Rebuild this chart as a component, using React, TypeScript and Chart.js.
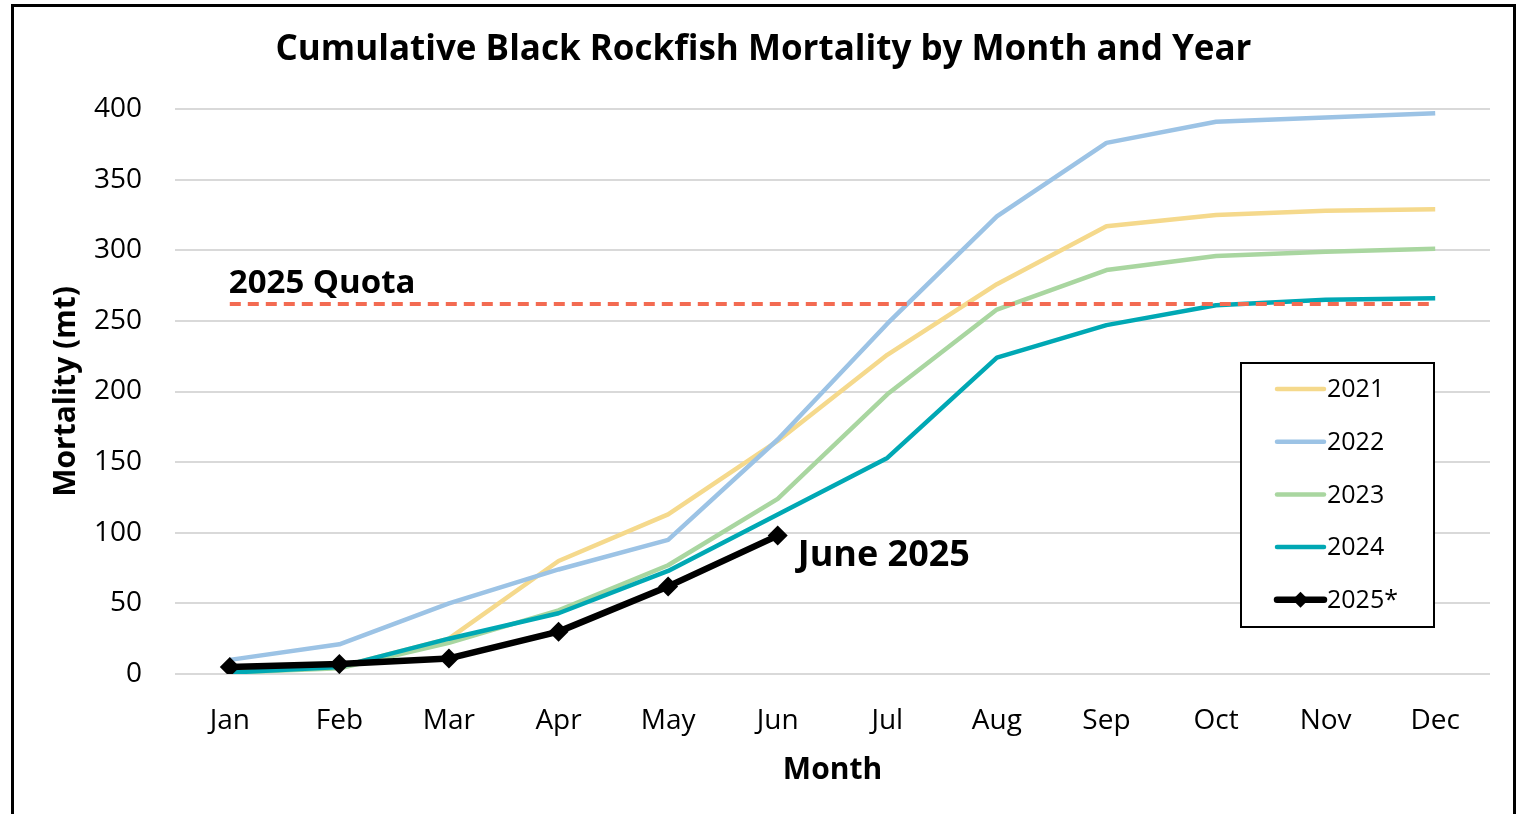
import React, { useEffect, useRef } from "react";
import { Chart, registerables } from "chart.js";

Chart.register(...registerables);

const FONT = "'Open Sans', 'Noto Sans', sans-serif";

const titleText = "Cumulative Black Rockfish Mortality by Month and Year";
const months = ["Jan", "Feb", "Mar", "Apr", "May", "Jun", "Jul", "Aug", "Sep", "Oct", "Nov", "Dec"];
const yTicks = [0, 50, 100, 150, 200, 250, 300, 350, 400];

const series2021 = [2, 5, 25, 80, 113, 165, 226, 276, 317, 325, 328, 329];
const series2022 = [10, 21, 50, 74, 95, 166, 248, 324, 376, 391, 394, 397];
const series2023 = [1, 4, 22, 45, 77, 124, 198, 258, 286, 296, 299, 301];
const series2024 = [1, 5, 25, 43, 73, 113, 153, 224, 247, 261, 265, 266];
const series2025 = [5, 7, 11, 30, 62, 98];
const quotaValue = 262;
const quotaSeries = months.map(() => quotaValue);

const quotaLabel = "2025 Quota";
const currentLabel = "June 2025";

const legendPlugin = {
  id: "customLegend",
  afterDraw(chart: any) {
    const ctx = chart.ctx as CanvasRenderingContext2D;
    const ca = chart.chartArea;
    const x0 = ca.right - 249;
    const y0 = ca.top + 254;
    const w = 193;
    const h = 264;
    ctx.save();
    ctx.fillStyle = "#ffffff";
    ctx.fillRect(x0, y0, w, h);
    ctx.strokeStyle = "#000000";
    ctx.lineWidth = 2;
    ctx.strokeRect(x0, y0, w, h);
    const items = chart.data.datasets.filter((d: any) => d.inLegend);
    items.forEach((d: any, i: number) => {
      const cy = y0 + 26 + i * 52.7;
      const lx1 = x0 + 36;
      const lx2 = x0 + 83;
      ctx.strokeStyle = d.borderColor;
      ctx.lineWidth = d.borderWidth;
      ctx.lineCap = "round";
      ctx.beginPath();
      ctx.moveTo(lx1, cy);
      ctx.lineTo(lx2, cy);
      ctx.stroke();
      if (d.pointRadius > 0) {
        const cx = (lx1 + lx2) / 2;
        const r = 8;
        ctx.fillStyle = d.pointBackgroundColor;
        ctx.beginPath();
        ctx.moveTo(cx, cy - r);
        ctx.lineTo(cx + r, cy);
        ctx.lineTo(cx, cy + r);
        ctx.lineTo(cx - r, cy);
        ctx.closePath();
        ctx.fill();
      }
      ctx.fillStyle = "#000000";
      ctx.font = `25px ${FONT}`;
      ctx.textAlign = "left";
      ctx.textBaseline = "middle";
      ctx.fillText(d.label, lx2 + 3, cy + 1);
    });
    ctx.restore();
  },
};

const annotationPlugin = {
  id: "annotations",
  afterDatasetsDraw(chart: any) {
    const ctx = chart.ctx as CanvasRenderingContext2D;
    const xs = chart.scales.x;
    const ys = chart.scales.y;
    ctx.save();
    ctx.fillStyle = "#000000";
    ctx.textBaseline = "middle";
    ctx.textAlign = "left";
    ctx.font = `bold 33px ${FONT}`;
    ctx.fillText(quotaLabel, xs.getPixelForValue(0) - 1, ys.getPixelForValue(quotaValue) - 20);
    const lastIdx = series2025.length - 1;
    ctx.font = `bold 36px ${FONT}`;
    ctx.fillText(
      currentLabel,
      xs.getPixelForValue(lastIdx) + 20,
      ys.getPixelForValue(series2025[lastIdx]) + 20
    );
    ctx.restore();
  },
};

export default function App() {
  const ref = useRef<HTMLCanvasElement | null>(null);

  useEffect(() => {
    if (!ref.current) return;
    Chart.defaults.font.family = FONT;
    const line = (label: string, data: number[], color: string, order: number) => ({
      label,
      data,
      borderColor: color,
      backgroundColor: color,
      borderWidth: 4.5,
      pointRadius: 0,
      tension: 0,
      fill: false,
      order,
      inLegend: true,
      borderJoinStyle: "round",
    });
    const chart = new Chart(ref.current, {
      type: "line",
      data: {
        labels: months,
        datasets: [
          line("2021", series2021, "#F5D98C", 6),
          line("2022", series2022, "#9CC3E5", 5),
          line("2023", series2023, "#A9D6A0", 4),
          line("2024", series2024, "#00A8B4", 3),
          {
            label: "Quota",
            data: quotaSeries,
            borderColor: "#F36B52",
            borderWidth: 4,
            borderDash: [11, 7],
            pointRadius: 0,
            fill: false,
            order: 2,
            inLegend: false,
          } as any,
          {
            label: "2025*",
            data: series2025,
            borderColor: "#000000",
            backgroundColor: "#000000",
            borderWidth: 6.5,
            pointStyle: "rectRot",
            pointRadius: 10,
            pointBackgroundColor: "#000000",
            pointBorderColor: "#000000",
            pointBorderWidth: 0,
            fill: false,
            order: 1,
            inLegend: true,
            borderJoinStyle: "round",
          } as any,
        ] as any,
      },
      options: {
        animation: false,
        responsive: false,
        maintainAspectRatio: false,
        layout: { padding: { left: 37, right: 26, top: 0, bottom: 0 } },
        plugins: {
          legend: { display: false },
          tooltip: { enabled: false },
          title: {
            display: true,
            text: titleText,
            color: "#000000",
            font: { size: 35, weight: "bold", family: FONT },
            padding: { top: 29, bottom: 38 },
          },
        },
        scales: {
          x: {
            offset: true,
            grid: { display: false, drawTicks: false },
            border: { display: false },
            ticks: { color: "#000000", font: { size: 28 }, padding: 30 },
            title: {
              display: true,
              text: "Month",
              color: "#000000",
              font: { size: 30, weight: "bold" },
              padding: { top: 0, bottom: 26 },
            },
            afterFit: (s: any) => {
              s.height = 140;
            },
          },
          y: {
            min: 0,
            max: 400,
            afterBuildTicks: (s: any) => {
              s.ticks = yTicks.map((v) => ({ value: v }));
            },
            ticks: { color: "#000000", font: { size: 28 }, padding: 33 },
            grid: { color: "#D9D9D9", lineWidth: 2, drawTicks: false },
            border: { display: false },
            title: {
              display: true,
              text: "Mortality (mt)",
              color: "#000000",
              font: { size: 30, weight: "bold" },
              padding: { top: 11, bottom: 0 },
            },
            afterFit: (s: any) => {
              s.width = 138;
            },
          },
        },
      } as any,
      plugins: [annotationPlugin, legendPlugin],
    });
    return () => chart.destroy();
  }, []);

  return (
    <div
      style={{
        position: "fixed",
        left: 0,
        top: 0,
        width: 1516,
        height: 814,
        overflow: "hidden",
        background: "#ffffff",
      }}
    >
      <canvas ref={ref} width={1516} height={814} style={{ display: "block", position: "absolute", left: 0, top: 0 }} />
      <div
        style={{
          position: "absolute",
          left: 11,
          top: 4,
          width: 1505,
          height: 900,
          border: "3px solid #000000",
          boxSizing: "border-box",
          pointerEvents: "none",
        }}
      />
    </div>
  );
}
